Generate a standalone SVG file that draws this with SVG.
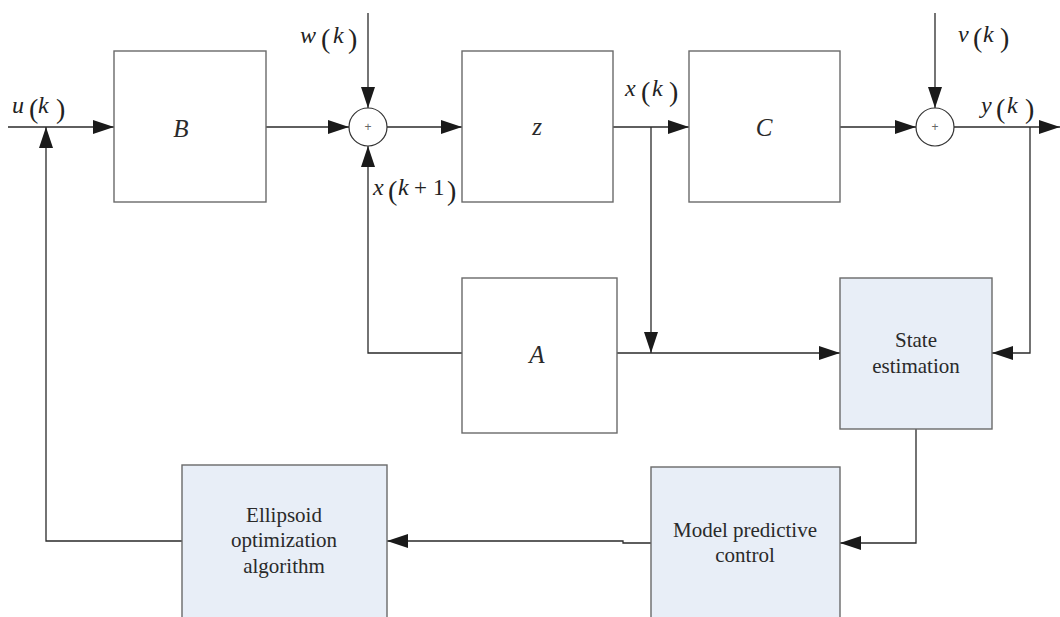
<svg xmlns="http://www.w3.org/2000/svg" width="1060" height="617" viewBox="0 0 1060 617">
  <style>
    .blk { fill: #ffffff; stroke: #6a6a6a; stroke-width: 1.4; }
    .blk2 { fill: #e8eef7; stroke: #6a6a6a; stroke-width: 1.4; }
    .sum { fill: #ffffff; stroke: #333333; stroke-width: 1.2; }
    .wire { fill: none; stroke: #2a2a2a; stroke-width: 1.3; }
    .var { font-family: "Liberation Serif", "Times New Roman", serif; font-style: italic; font-size: 24px; fill: #222222; }
    .par { font-family: "Liberation Serif", "Times New Roman", serif; font-style: normal; font-size: 28px; fill: #222222; }
    .op { font-family: "Liberation Serif", "Times New Roman", serif; font-style: normal; font-size: 23px; fill: #222222; }
    .lbl { font-family: "Liberation Serif", "Times New Roman", serif; font-size: 21px; fill: #2a2a2a; text-anchor: middle; }
    .sym { font-family: "Liberation Serif", "Times New Roman", serif; font-style: italic; font-size: 25px; fill: #2a2a2a; text-anchor: middle; }
    .plus { font-family: "Liberation Sans", sans-serif; font-size: 12px; fill: #666666; text-anchor: middle; }
  </style>
  <defs>
    <marker id="arr" viewBox="0 0 21 14" refX="21" refY="7" markerWidth="21" markerHeight="14" markerUnits="userSpaceOnUse" orient="auto">
      <path d="M0,0 L21,7 L0,14 Z" fill="#1a1a1a"/>
    </marker>
  </defs>

  <!-- connectors -->
  <g id="connectors">
    <path class="wire" d="M8,127 H114" marker-end="url(#arr)"/>
    <path class="wire" d="M182,541 H46 V127" marker-end="url(#arr)"/>
    <path class="wire" d="M266,127 H349" marker-end="url(#arr)"/>
    <path class="wire" d="M368,13 V108" marker-end="url(#arr)"/>
    <path class="wire" d="M387,127 H462" marker-end="url(#arr)"/>
    <path class="wire" d="M613,127 H689" marker-end="url(#arr)"/>
    <path class="wire" d="M651,127 V353" marker-end="url(#arr)"/>
    <path class="wire" d="M617,353 H840" marker-end="url(#arr)"/>
    <path class="wire" d="M462,353 H368 V146" marker-end="url(#arr)"/>
    <path class="wire" d="M840,127 H916" marker-end="url(#arr)"/>
    <path class="wire" d="M935,13 V108" marker-end="url(#arr)"/>
    <path class="wire" d="M954,127 H1060" marker-end="url(#arr)"/>
    <path class="wire" d="M1030,127 V353 H992" marker-end="url(#arr)"/>
    <path class="wire" d="M916,429 V543 H840" marker-end="url(#arr)"/>
    <path class="wire" d="M651,543 H623 V541 H387" marker-end="url(#arr)"/>
  </g>

  <!-- signal labels -->
  <g id="signals">
    <text class="var" x="12" y="113">u</text><text class="par" x="29" y="118">(</text><text class="var" x="38" y="113">k</text><text class="par" x="56" y="118">)</text>
    <text class="var" x="300" y="43">w</text><text class="par" x="321" y="48">(</text><text class="var" x="333" y="43">k</text><text class="par" x="348" y="48">)</text>
    <text class="var" x="373" y="195">x</text><text class="par" x="388" y="200">(</text><text class="var" x="398" y="195">k</text><text class="op" x="414" y="195">+</text><text class="op" x="433" y="195">1</text><text class="par" x="447" y="200">)</text>
    <text class="var" x="625" y="96">x</text><text class="par" x="641" y="101">(</text><text class="var" x="652" y="96">k</text><text class="par" x="669" y="101">)</text>
    <text class="var" x="958" y="42">v</text><text class="par" x="973" y="47">(</text><text class="var" x="983" y="42">k</text><text class="par" x="1000" y="47">)</text>
    <text class="var" x="981" y="113">y</text><text class="par" x="996" y="118">(</text><text class="var" x="1007" y="113">k</text><text class="par" x="1025" y="118">)</text>
  </g>

  <g id="B">
    <rect class="blk" x="114" y="51" width="152" height="151"/>
    <text class="sym" x="181" y="137">B</text>
  </g>
  <g id="sum1">
    <circle class="sum" cx="368" cy="127" r="19"/>
    <text class="plus" x="368" y="131">+</text>
  </g>
  <g id="Z">
    <rect class="blk" x="462" y="51" width="151" height="151"/>
    <text class="sym" x="537" y="135">z</text>
  </g>
  <g id="C">
    <rect class="blk" x="689" y="51" width="151" height="151"/>
    <text class="sym" x="764" y="136">C</text>
  </g>
  <g id="sum2">
    <circle class="sum" cx="935" cy="127" r="19"/>
    <text class="plus" x="935" y="131">+</text>
  </g>
  <g id="A">
    <rect class="blk" x="462" y="278" width="155" height="155"/>
    <text class="sym" x="537" y="363">A</text>
  </g>
  <g id="state-estimation">
    <rect class="blk2" x="840" y="278" width="152" height="151"/>
    <text class="lbl" x="916" y="347">State</text>
    <text class="lbl" x="916" y="373">estimation</text>
  </g>
  <g id="mpc">
    <rect class="blk2" x="651" y="467" width="189" height="170"/>
    <text class="lbl" x="745" y="537">Model predictive</text>
    <text class="lbl" x="745" y="562">control</text>
  </g>
  <g id="ellipsoid">
    <rect class="blk2" x="182" y="465" width="205" height="172"/>
    <text class="lbl" x="284" y="522">Ellipsoid</text>
    <text class="lbl" x="284" y="547">optimization</text>
    <text class="lbl" x="284" y="573">algorithm</text>
  </g>
</svg>
